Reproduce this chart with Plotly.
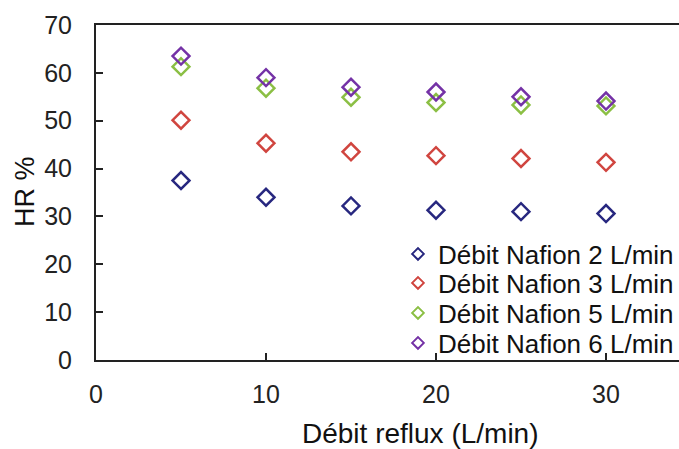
import plotly.graph_objects as go

debit_reflux = [5, 10, 15, 20, 25, 30]
hr_nafion_2 = [37.5, 34.0, 32.2, 31.3, 31.0, 30.6]
hr_nafion_3 = [50.1, 45.3, 43.5, 42.7, 42.1, 41.3]
hr_nafion_5 = [61.3, 56.8, 54.9, 53.8, 53.3, 53.1]
hr_nafion_6 = [63.5, 59.0, 57.0, 56.0, 55.0, 54.1]
series_names = ["Débit Nafion 2 L/min", "Débit Nafion 3 L/min",
                "Débit Nafion 5 L/min", "Débit Nafion 6 L/min"]
x_ticks = [0, 10, 20, 30]
y_ticks = [0, 10, 20, 30, 40, 50, 60, 70]

colors = ["#27277F", "#D0453F", "#8BBF44", "#7432A6"]
series = [hr_nafion_2, hr_nafion_3, hr_nafion_5, hr_nafion_6]
legend_ids = ["legend", "legend2", "legend3", "legend4"]

FONT = "Liberation Sans, Arial, sans-serif"
fig = go.Figure()
for name, vals, c in zip(series_names, series, colors):
    fig.add_trace(go.Scatter(
        x=debit_reflux, y=vals, mode="markers", name=name, showlegend=False,
        marker=dict(symbol="diamond-open", size=13, color=c, line=dict(width=2.5, color=c)),
    ))
for name, c, lid in zip(series_names, colors, legend_ids):
    fig.add_trace(go.Scatter(
        x=[None], y=[None], mode="markers", name=name, showlegend=True, legend=lid,
        marker=dict(symbol="diamond-open", size=9, color=c, line=dict(width=2, color=c)),
    ))

W, H = 679, 449
L, T, B, R = 96, 25, 89, 0
pw = W - L - R
ph = H - T - B

row_centers = [254, 283, 313, 343]
legends = {}
for lid, yc in zip(legend_ids, row_centers):
    legends[lid] = dict(
        x=(398 - L) / pw, xanchor="left",
        y=(360 - yc) / ph, yanchor="middle",
        bgcolor="rgba(0,0,0,0)", borderwidth=0,
        font=dict(family=FONT, size=26, color="#111"),
    )

fig.update_layout(
    width=W, height=H,
    margin=dict(l=L, r=R, t=T, b=B, pad=0),
    paper_bgcolor="white", plot_bgcolor="white",
    font=dict(family=FONT, size=25, color="#111"),
    showlegend=True,
    xaxis=dict(
        range=[0, pw / 17.0], tickvals=x_ticks, ticks="inside", ticklen=7, tickwidth=2,
        tickcolor="#222", showline=True, linecolor="#222", linewidth=2, mirror=True,
        showgrid=False, zeroline=False, tickfont=dict(family=FONT, size=25, color="#222"),
        ticklabelstandoff=11,
    ),
    yaxis=dict(
        range=[0, 70], tickvals=y_ticks, ticks="inside", ticklen=7, tickwidth=2,
        tickcolor="#222", showline=True, linecolor="#222", linewidth=2,
        showgrid=False, zeroline=False, tickfont=dict(family=FONT, size=25, color="#222"),
        ticklabelstandoff=17,
    ),
    annotations=[
        dict(text="Débit reflux (L/min)", xref="paper", yref="paper",
             x=(420 - L) / pw, y=(360 - 433) / ph, xanchor="center", yanchor="middle",
             showarrow=False, font=dict(family=FONT, size=28, color="#111")),
        dict(text="HR %", xref="paper", yref="paper", textangle=-90,
             x=(25 - L) / pw, y=(360 - 192) / ph, xanchor="center", yanchor="middle",
             showarrow=False, font=dict(family=FONT, size=27, color="#111")),
    ],
    **legends,
)

fig.write_html("out.html", config={"displayModeBar": False},
               post_script="document.body.style.margin='0';document.body.style.padding='0';")
